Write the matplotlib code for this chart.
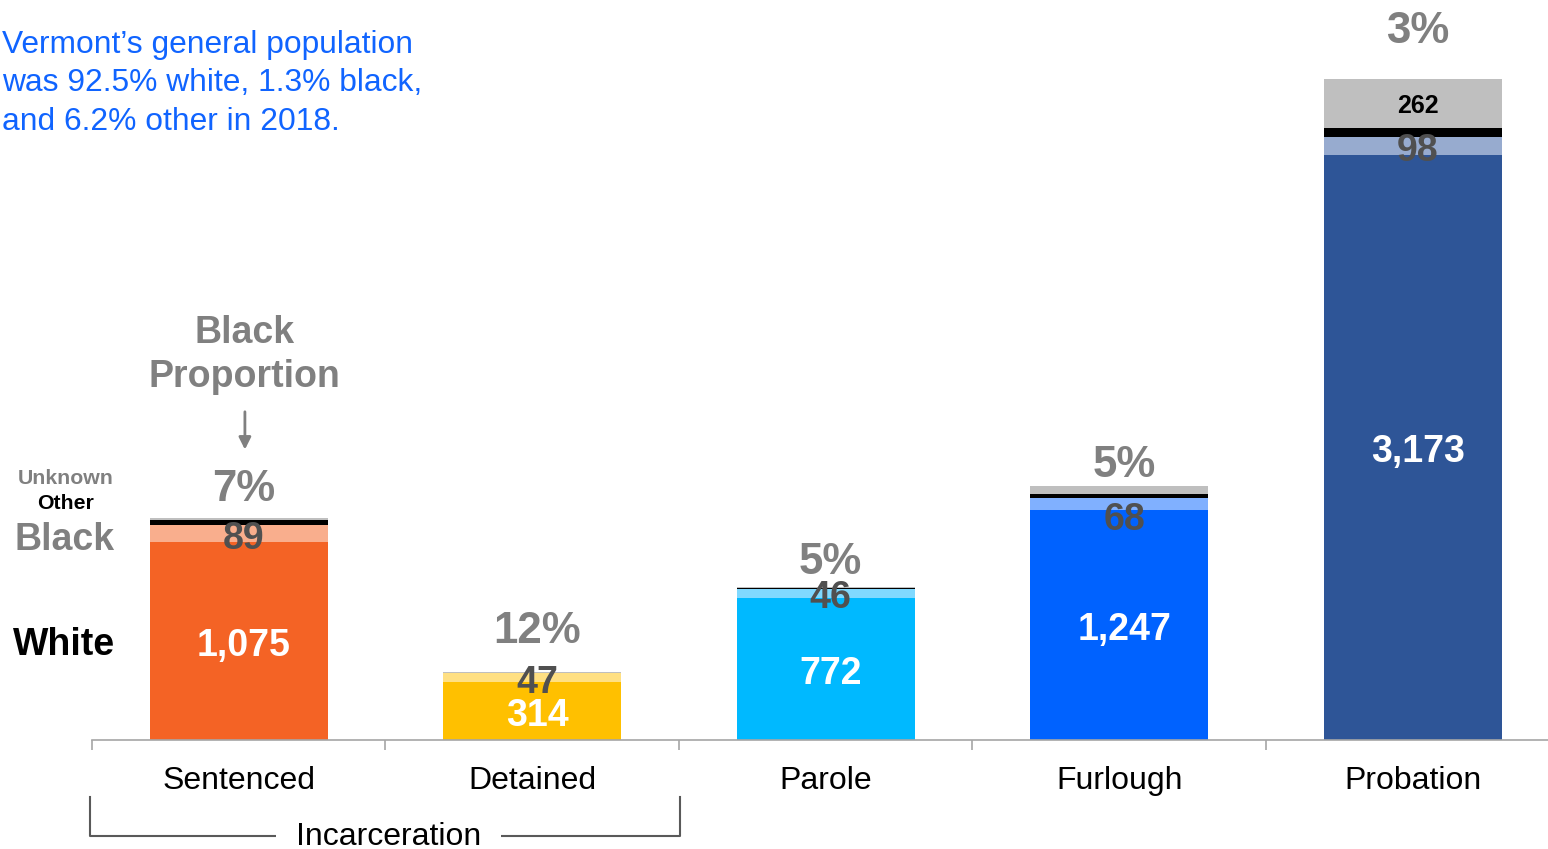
import matplotlib
matplotlib.use("Agg")
import matplotlib.pyplot as plt
from matplotlib.transforms import blended_transform_factory

plt.rcParams['font.family'] = ['Liberation Sans', 'DejaVu Sans']

# data
categories = ["Sentenced", "Detained", "Parole", "Furlough", "Probation"]
white = [1075, 314, 772, 1247, 3173]
black = [89, 47, 46, 68, 98]
other = [27, 5, 8, 20, 49]
unknown = [15, 4, 5, 43, 262]
black_pct = ["7%", "12%", "5%", "5%", "3%"]

# styling
main_colors = ["#F46325", "#FFC000", "#00B9FF", "#0062FF", "#2E5597"]
light_colors = ["#F9AE8D", "#FFE083", "#80D9FF", "#80B0FF", "#97ABCF"]
pct_pad = [8, 20, 4, 0, 27]      # px gap above each bar for the % label
black_shift = [0, 0, 0, -11, 0]  # px nudge for the black count labels

PT = 0.72  # points per pixel at dpi 100
DX = 5 * PT  # labels sit slightly right of the bar centre

fig = plt.figure(figsize=(15.48, 8.49), dpi=100)
ax = fig.add_axes([92 / 1548, 109 / 849, 1 - 92 / 1548, 1 - 109 / 849])

x = list(range(len(categories)))
w = 0.606
b1 = [a + b for a, b in zip(white, black)]
b2 = [a + b for a, b in zip(b1, other)]
totals = [a + b for a, b in zip(b2, unknown)]

ax.bar(x, white, w, color=main_colors)
ax.bar(x, black, w, bottom=white, color=light_colors)
ax.bar(x, other, w, bottom=b1, color="black")
ax.bar(x, unknown, w, bottom=b2, color="#BFBFBF")

for i in x:
    ax.annotate(f"{white[i]:,}", (i, white[i] / 2), xytext=(DX, -5 * PT),
                textcoords="offset points", ha="center", va="center",
                color="white", fontsize=27, fontweight="bold")
    ax.annotate(f"{black[i]:,}", (i, white[i] + black[i] / 2),
                xytext=(DX, (-5 + black_shift[i]) * PT),
                textcoords="offset points", ha="center", va="center",
                color="#505050", fontsize=27, fontweight="bold")
    ax.annotate(black_pct[i], (i, totals[i]), xytext=(DX, pct_pad[i] * PT),
                textcoords="offset points", ha="center", va="bottom",
                color="#808080", fontsize=31.5, fontweight="bold")

# unknown count on the probation bar
ax.annotate(f"{unknown[4]:,}", (4, b2[4] + unknown[4] / 2), xytext=(DX, -2 * PT),
            textcoords="offset points", ha="center", va="center",
            color="black", fontsize=18, fontweight="bold")

ax.set_xlim(-0.5, 4.461)
ax.set_ylim(0, 4013)

for s in ["top", "right", "left"]:
    ax.spines[s].set_visible(False)
ax.spines["bottom"].set_color("#A6A6A6")
ax.spines["bottom"].set_linewidth(1.2)
ax.set_yticks([])
ax.set_xticks([i - 0.5 for i in x])
ax.set_xticklabels([])
ax.tick_params(axis="x", which="major", length=7, color="#A6A6A6", width=1.2)
ax.set_xticks(x, minor=True)
ax.set_xticklabels(categories, minor=True, fontsize=23)
ax.tick_params(axis="x", which="minor", length=0, pad=18.5)

# legend-like labels on the left
lx = -0.422
cx = -0.589
ax.annotate("White", (lx, white[0] / 2), xytext=(0, -4 * PT),
            textcoords="offset points", ha="right", va="center",
            fontsize=27, fontweight="bold", color="black")
ax.text(lx, 1085, "Black", ha="right", va="center",
        fontsize=27, fontweight="bold", color="#808080")
ax.text(cx, 1280, "Other", ha="center", va="center",
        fontsize=15.3, fontweight="bold", color="black")
ax.text(cx, 1416, "Unknown", ha="center", va="center",
        fontsize=15.3, fontweight="bold", color="#808080")

# black proportion callout
ax.text(0.021, 2090, "Black\nProportion", ha="center", va="center",
        fontsize=27, fontweight="bold", color="#808080", linespacing=1.28)
ax.annotate("", xy=(0.021, 1560), xytext=(0.021, 1795),
            arrowprops=dict(arrowstyle="-|>", color="#808080", lw=2,
                            mutation_scale=18))

# population note
fig.text(0.001, 1 - 30 / 849,
         "Vermont\u2019s general population\nwas 92.5% white, 1.3% black,\nand 6.2% other in 2018.",
         ha="left", va="top", fontsize=22.9, color="#1064FF", linespacing=1.36)

# incarceration bracket
tr = blended_transform_factory(ax.transData, fig.transFigure)
yb = 1 - 836 / 849
yt = 1 - 797 / 849
ax.plot([-0.507, -0.507, 1.503, 1.503], [yt, yb, yb, yt], color="#595959",
        lw=1.5, transform=tr, clip_on=False)
ax.text(0.51, yb - 1 / 849, "Incarceration", ha="center", va="center", fontsize=23,
        transform=tr, bbox=dict(facecolor="white", edgecolor="none", pad=14))

fig.savefig("out.png", dpi=100)
